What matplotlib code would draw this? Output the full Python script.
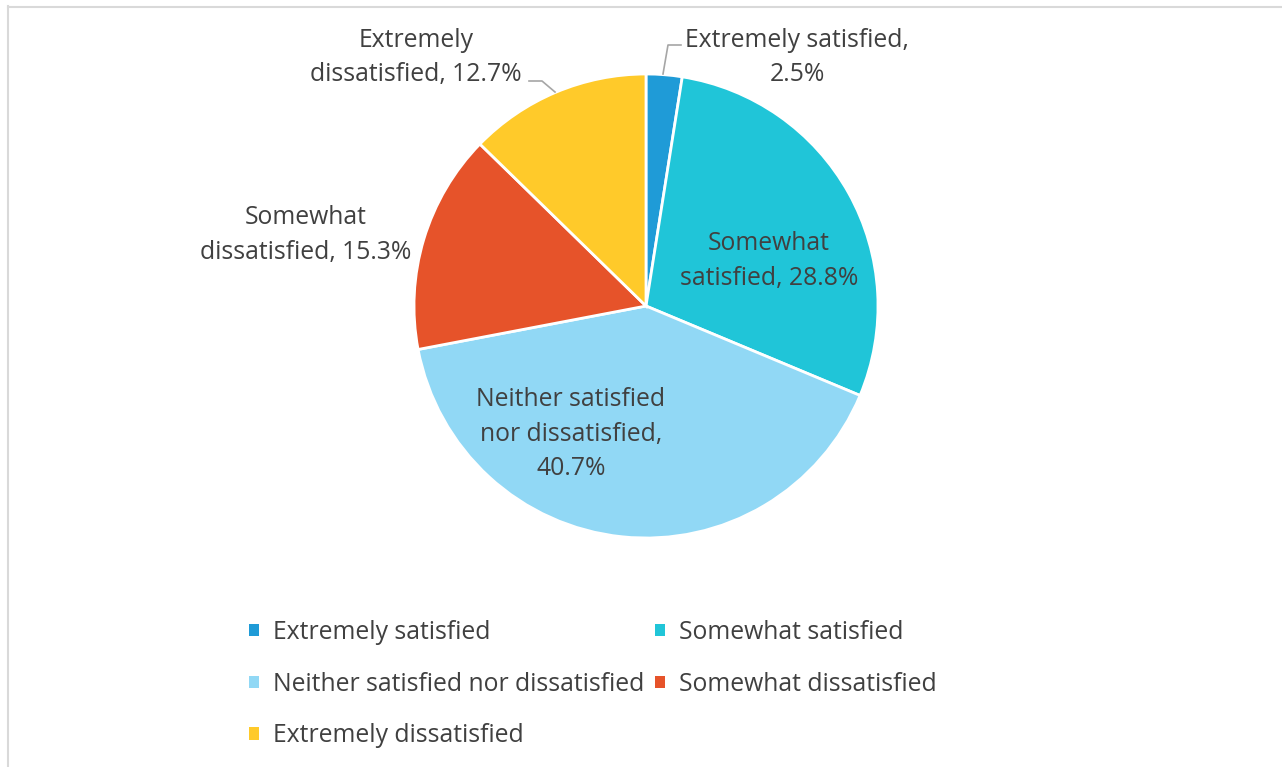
import matplotlib.pyplot as plt
from matplotlib.patches import Patch
from matplotlib.lines import Line2D

categories = ["Extremely satisfied", "Somewhat satisfied", "Neither satisfied nor dissatisfied",
              "Somewhat dissatisfied", "Extremely dissatisfied"]
shares = [2.5, 28.8, 40.7, 15.3, 12.7]
colors = ["#1F9BD7", "#20C5D8", "#91D8F5", "#E6532A", "#FFCA2A"]
labels = ["Extremely satisfied,\n2.5%", "Somewhat\nsatisfied, 28.8%",
          "Neither satisfied\nnor dissatisfied,\n40.7%", "Somewhat\ndissatisfied, 15.3%",
          "Extremely\ndissatisfied, 12.7%"]

W, H = 1282, 767
plt.rcParams["font.family"] = ["Open Sans", "DejaVu Sans"]
txt = "#404040"
fs = 17.8

fig = plt.figure(figsize=(W / 100, H / 100), dpi=100)

# pie in a y-up axes so the wedges go clockwise
pax = fig.add_axes([0, 0, 1, 1])
wedges, _ = pax.pie(shares, colors=colors, startangle=90, counterclock=False,
                    center=(646, H - 306), radius=232,
                    wedgeprops=dict(edgecolor="white", linewidth=2))
pax.set_aspect("auto")
pax.set_xlim(0, W)
pax.set_ylim(0, H)
pax.axis("off")

# overlay axes in pixel coords (y down) for labels and leader lines
ax = fig.add_axes([0, 0, 1, 1])
ax.set_xlim(0, W)
ax.set_ylim(H, 0)
ax.axis("off")
ax.patch.set_alpha(0)

label_pos = [(797, 57.5), (769, 261), (571, 434), (306, 235), (416, 57.5)]
for lab, (x, y) in zip(labels, label_pos):
    ax.text(x, y, lab, ha="center", va="center", fontsize=fs, color=txt, linespacing=1.5)

ax.plot([663, 668, 681], [74, 45, 45], color="#A6A6A6", lw=1.2)
ax.plot([555, 542, 529], [92, 81, 81], color="#A6A6A6", lw=1.2)

# legend, row-wise order
order = [0, 2, 4, 1, 3]
handles = [Patch(facecolor=colors[i], edgecolor="none") for i in order]
leg = fig.legend(handles, [categories[i] for i in order], ncol=2, loc="upper left",
                 bbox_to_anchor=(249 / W, 1 - 620 / H), frameon=False, fontsize=fs,
                 handlelength=0.41, handleheight=0.41, handletextpad=0.55,
                 columnspacing=0.45, labelspacing=1.08, borderpad=0, borderaxespad=0)
for t in leg.get_texts():
    t.set_color(txt)

# chart area frame (only left/top visible)
fig.add_artist(Line2D([7.5 / W, 7.5 / W], [0, 1 - 6 / H], color="#D9D9D9", lw=1.5))
fig.add_artist(Line2D([7.5 / W, 1], [1 - 6.5 / H, 1 - 6.5 / H], color="#D9D9D9", lw=1.5))

fig.savefig("out.png", dpi=100)
